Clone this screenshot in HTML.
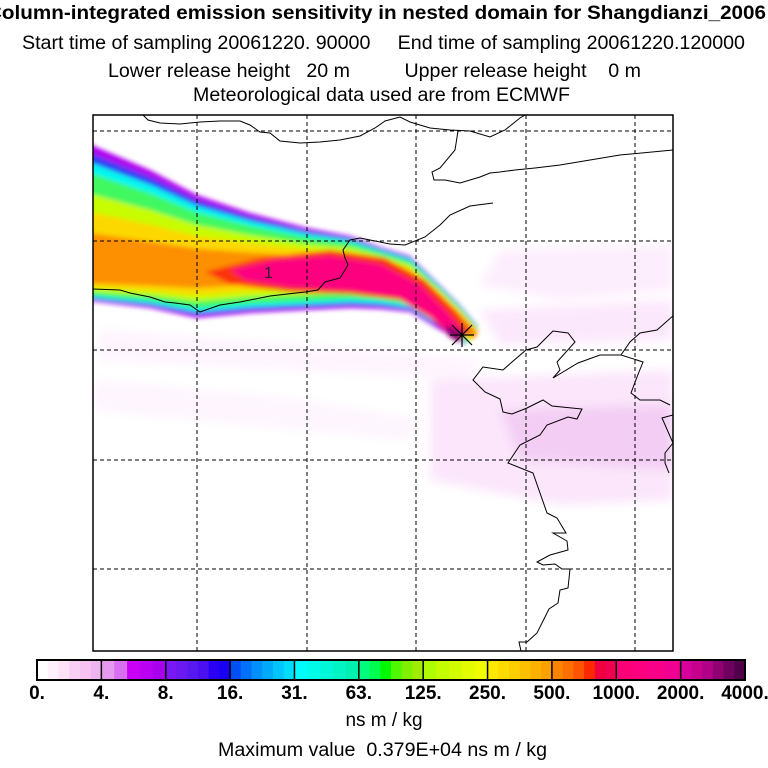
<!DOCTYPE html>
<html><head><meta charset="utf-8"><style>
html,body{margin:0;padding:0;background:#fff;}
svg{display:block;font-family:"Liberation Sans",sans-serif;}
</style></head><body>
<svg id="chart" width="768" height="768" viewBox="0 0 768 768">
<defs>
<filter id="blur" x="-10%" y="-10%" width="120%" height="120%"><feGaussianBlur stdDeviation="2.5"/></filter>
<filter id="blur2"><feGaussianBlur stdDeviation="5"/></filter>
<clipPath id="plotclip"><rect x="93" y="115" width="580" height="536"/></clipPath>
</defs>
<g>
<text x="-13" y="19" font-size="19" font-weight="bold" textLength="779" lengthAdjust="spacingAndGlyphs">Column-integrated emission sensitivity in nested domain for Shangdianzi_2006</text>
<text x="22" y="49" font-size="19" textLength="723" lengthAdjust="spacingAndGlyphs" xml:space="preserve">Start time of sampling 20061220. 90000     End time of sampling 20061220.120000</text>
<text x="108" y="77" font-size="19" textLength="533" lengthAdjust="spacingAndGlyphs" xml:space="preserve">Lower release height   20 m          Upper release height    0 m</text>
<text x="193" y="101" font-size="19" textLength="377" lengthAdjust="spacingAndGlyphs">Meteorological data used are from ECMWF</text>
</g>
<g id="plot" clip-path="url(#plotclip)">
<g id="faint" filter="url(#blur2)"></g>
<g id="plume" filter="url(#blur)"></g>
<g id="grid"></g>
<g id="coast"></g>
<text x="264" y="278" font-size="16" fill="#222">1</text>
<g stroke="#000" stroke-width="1.2">
<line x1="462" y1="323" x2="462" y2="347"/><line x1="450" y1="335" x2="474" y2="335"/>
<line x1="452" y1="325" x2="472" y2="345"/><line x1="452" y1="345" x2="472" y2="325"/>
</g>
</g>
<rect x="93" y="115" width="580" height="536" fill="none" stroke="#000" stroke-width="1.5"/>
<g id="cbar"></g>
<text x="384" y="726" text-anchor="middle" font-size="19">ns m / kg</text>
<text x="218" y="756" font-size="19" textLength="329" lengthAdjust="spacingAndGlyphs" xml:space="preserve">Maximum value  0.379E+04 ns m / kg</text>
</svg>
<script>
const levelLabels=["0.","4.","8.","16.","31.","63.","125.","250.","500.","1000.","2000.","4000."];
const segColors=[
["#ffffff","#fff0fb","#fde2f8","#f9d0f4","#f5c2f2","#efb4ef"],
["#e59af0","#d86ff0","#c800f5","#b900f2","#a800ee"],
["#7a18f5","#6a1af0","#5818f0","#4a10f0","#2a00f5","#1800f0"],
["#0050f5","#0070f8","#0090fa","#00aafa","#00c4fa","#00dcfa"],
["#00fcfc","#00fce8","#00f8d8","#00f4c4","#00f0b0"],
["#00fc7c","#00fc50","#00f800","#50f800","#80f000","#a0ec00"],
["#b0fc00","#c4fc00","#d4fc00","#e4fc00","#f0fc00"],
["#fce800","#fcdc00","#fcd000","#fcc000","#fcb000","#fca000"],
["#fc8400","#fc7000","#fc5400","#fc2800","#f00040","#f00050"],
["#fc0078","#fc0080","#f80088","#f00090"],
["#d8009c","#c4008c","#b00088","#900070","#700060","#500048"]];
const cbX0=37,cbX1=745,cbY=660,cbH=20;
const ns="http://www.w3.org/2000/svg";
function mk(tag,attrs,parent){const e=document.createElementNS(ns,tag);for(const k in attrs)e.setAttribute(k,attrs[k]);parent.appendChild(e);return e;}
const cb=document.getElementById('cbar');
const segW=(cbX1-cbX0)/segColors.length;
segColors.forEach((cols,i)=>{
  const sw=segW/cols.length;
  cols.forEach((c,j)=>{
    const r=mk('rect',{x:cbX0+i*segW+j*sw,y:cbY,width:sw+0.6,height:cbH,fill:c},cb);
    
    
  });
});
for(let i=0;i<=segColors.length;i++){
  const x=cbX0+i*segW;
  const l=mk('line',{x1:x,y1:cbY,x2:x,y2:cbY+cbH,stroke:'#000','stroke-width':1.5},cb);
  
  
  const t=mk('text',{x:x,y:699,'text-anchor':'middle','font-size':19,'font-weight':'bold'},cb);
  t.textContent=levelLabels[i];
  
  
}
const fr=mk('rect',{x:cbX0,y:cbY,width:cbX1-cbX0,height:cbH,fill:'none',stroke:'#000','stroke-width':2},cb);



const gridX=[197,307,416,526,635], gridY=[131,241,350,460,569];
const g=document.getElementById('grid');
gridX.forEach(x=>{const l=mk('line',{x1:x,y1:115,x2:x,y2:651,stroke:'#000','stroke-width':1,'stroke-dasharray':'4,3'},g);

});
gridY.forEach(y=>{const l=mk('line',{x1:93,y1:y,x2:673,y2:y,stroke:'#000','stroke-width':1,'stroke-dasharray':'4,3'},g);

});

const f=document.getElementById('faint');
[["M500,250 L673,245 L673,290 L560,300 L480,285 Z","#fdeefd"],
 ["M430,380 L673,370 L673,500 L560,505 L430,480 Z","#fbe6fb"],
 ["M500,410 L673,405 L673,470 L520,460 Z","#f3cdf4"],
 ["M100,330 L300,345 L480,360 L470,380 L300,370 L100,360 Z","#fef4fe"],
 ["M95,380 L300,400 L420,420 L410,440 L200,420 L95,410 Z","#fef5fe"],
 ["M480,310 L673,300 L673,340 L500,345 Z","#fce8fc"]].forEach(([d,c])=>{
  const p=mk('path',{d:d,fill:c},f);
  
  
});

const topX=[80,150,197,250,307,350,380,410,440,460,478];
const topY=[140,170,195,213,228,236,247,256,285,305,326];
const botY=[300,308,318,313,310,308,309,312,330,340,345];
const cenY=[275,275,274,271,270,267,270,280,300,318,336];
const bandT=[0,0.07,0.14,0.22,0.38,0.52,0.68];
const bandC=["#b000f0","#2a40f5","#00f8f0","#40f860","#c8fc00","#fcd800","#fc9000"];
const pl=document.getElementById('plume');
bandT.forEach((t,i)=>{
  let pts=[];
  topX.forEach((x,k)=>pts.push([x,topY[k]+(cenY[k]-topY[k])*t]));
  for(let k=topX.length-1;k>=0;k--)pts.push([topX[k]-(k==topX.length-1?14*(1-t):0),botY[k]+(cenY[k]-botY[k])*t]);
  const p=mk('polygon',{points:pts.map(q=>q.join(',')).join(' '),fill:bandC[i]},pl);
  
  
});
[["205,272 260,258 330,250 385,258 425,280 455,310 470,332 458,342 430,318 400,300 350,294 290,292 230,284","#fc3010"],
 ["230,270 275,260 330,256 380,264 420,285 450,315 465,334 456,340 430,315 398,297 350,290 290,287 245,280","#fc0080"],
 ["445,325 465,332 458,342 448,336","#900070"]].forEach(([pts,c])=>{
  const p=mk('polygon',{points:pts,fill:c},pl);
  
  
});

const coasts=[
"143,115 148,120 160,123 180,124 200,122 220,121 240,121 250,125 260,132 270,133 280,141 300,143 320,142 340,140 360,136 375,128 385,121 400,117 410,122 430,128 450,130 470,131 490,137 505,130 520,118 525,115",
"458,131 455,150 440,168 432,172 434,180 445,180 460,183 470,180 480,177 490,173 500,172 515,170 535,168 560,165 590,160 620,155 673,150",
"493,203 470,206 450,215 440,225 425,237 405,245 390,244 375,241 360,238 350,240 343,250 345,258 348,265 345,270 340,278 325,282 318,290 305,292 270,296 240,302 220,305 200,312 190,305 175,303 165,302 150,297 130,293 120,290 93,289",
"674,315 657,330 640,333 630,342 621,355 643,362 637,377 631,393 640,400 650,400 660,400 670,405",
"621,355 600,355 578,363 553,378 560,370 557,362 575,342 568,333 553,331 537,347 526,350 512,362 503,370 483,367 473,380 485,392 500,399 503,412 512,414 527,408 543,400 552,406 582,409 577,419 568,417 547,425 540,435 520,445 508,463 533,473 540,493 547,513 557,518 566,533 553,533 567,541 568,550 550,555 537,562 543,565 555,564 562,569 570,569 568,588 560,590 558,603 549,609 537,633 527,642 519,642 521,651",
"673,415 662,418 673,443 665,453 665,463 669,473"];
const co=document.getElementById('coast');
coasts.forEach(pts=>{
  const p=mk('polyline',{points:pts,fill:'none',stroke:'#000','stroke-width':1},co);
  
  
});
</script>
</body></html>
